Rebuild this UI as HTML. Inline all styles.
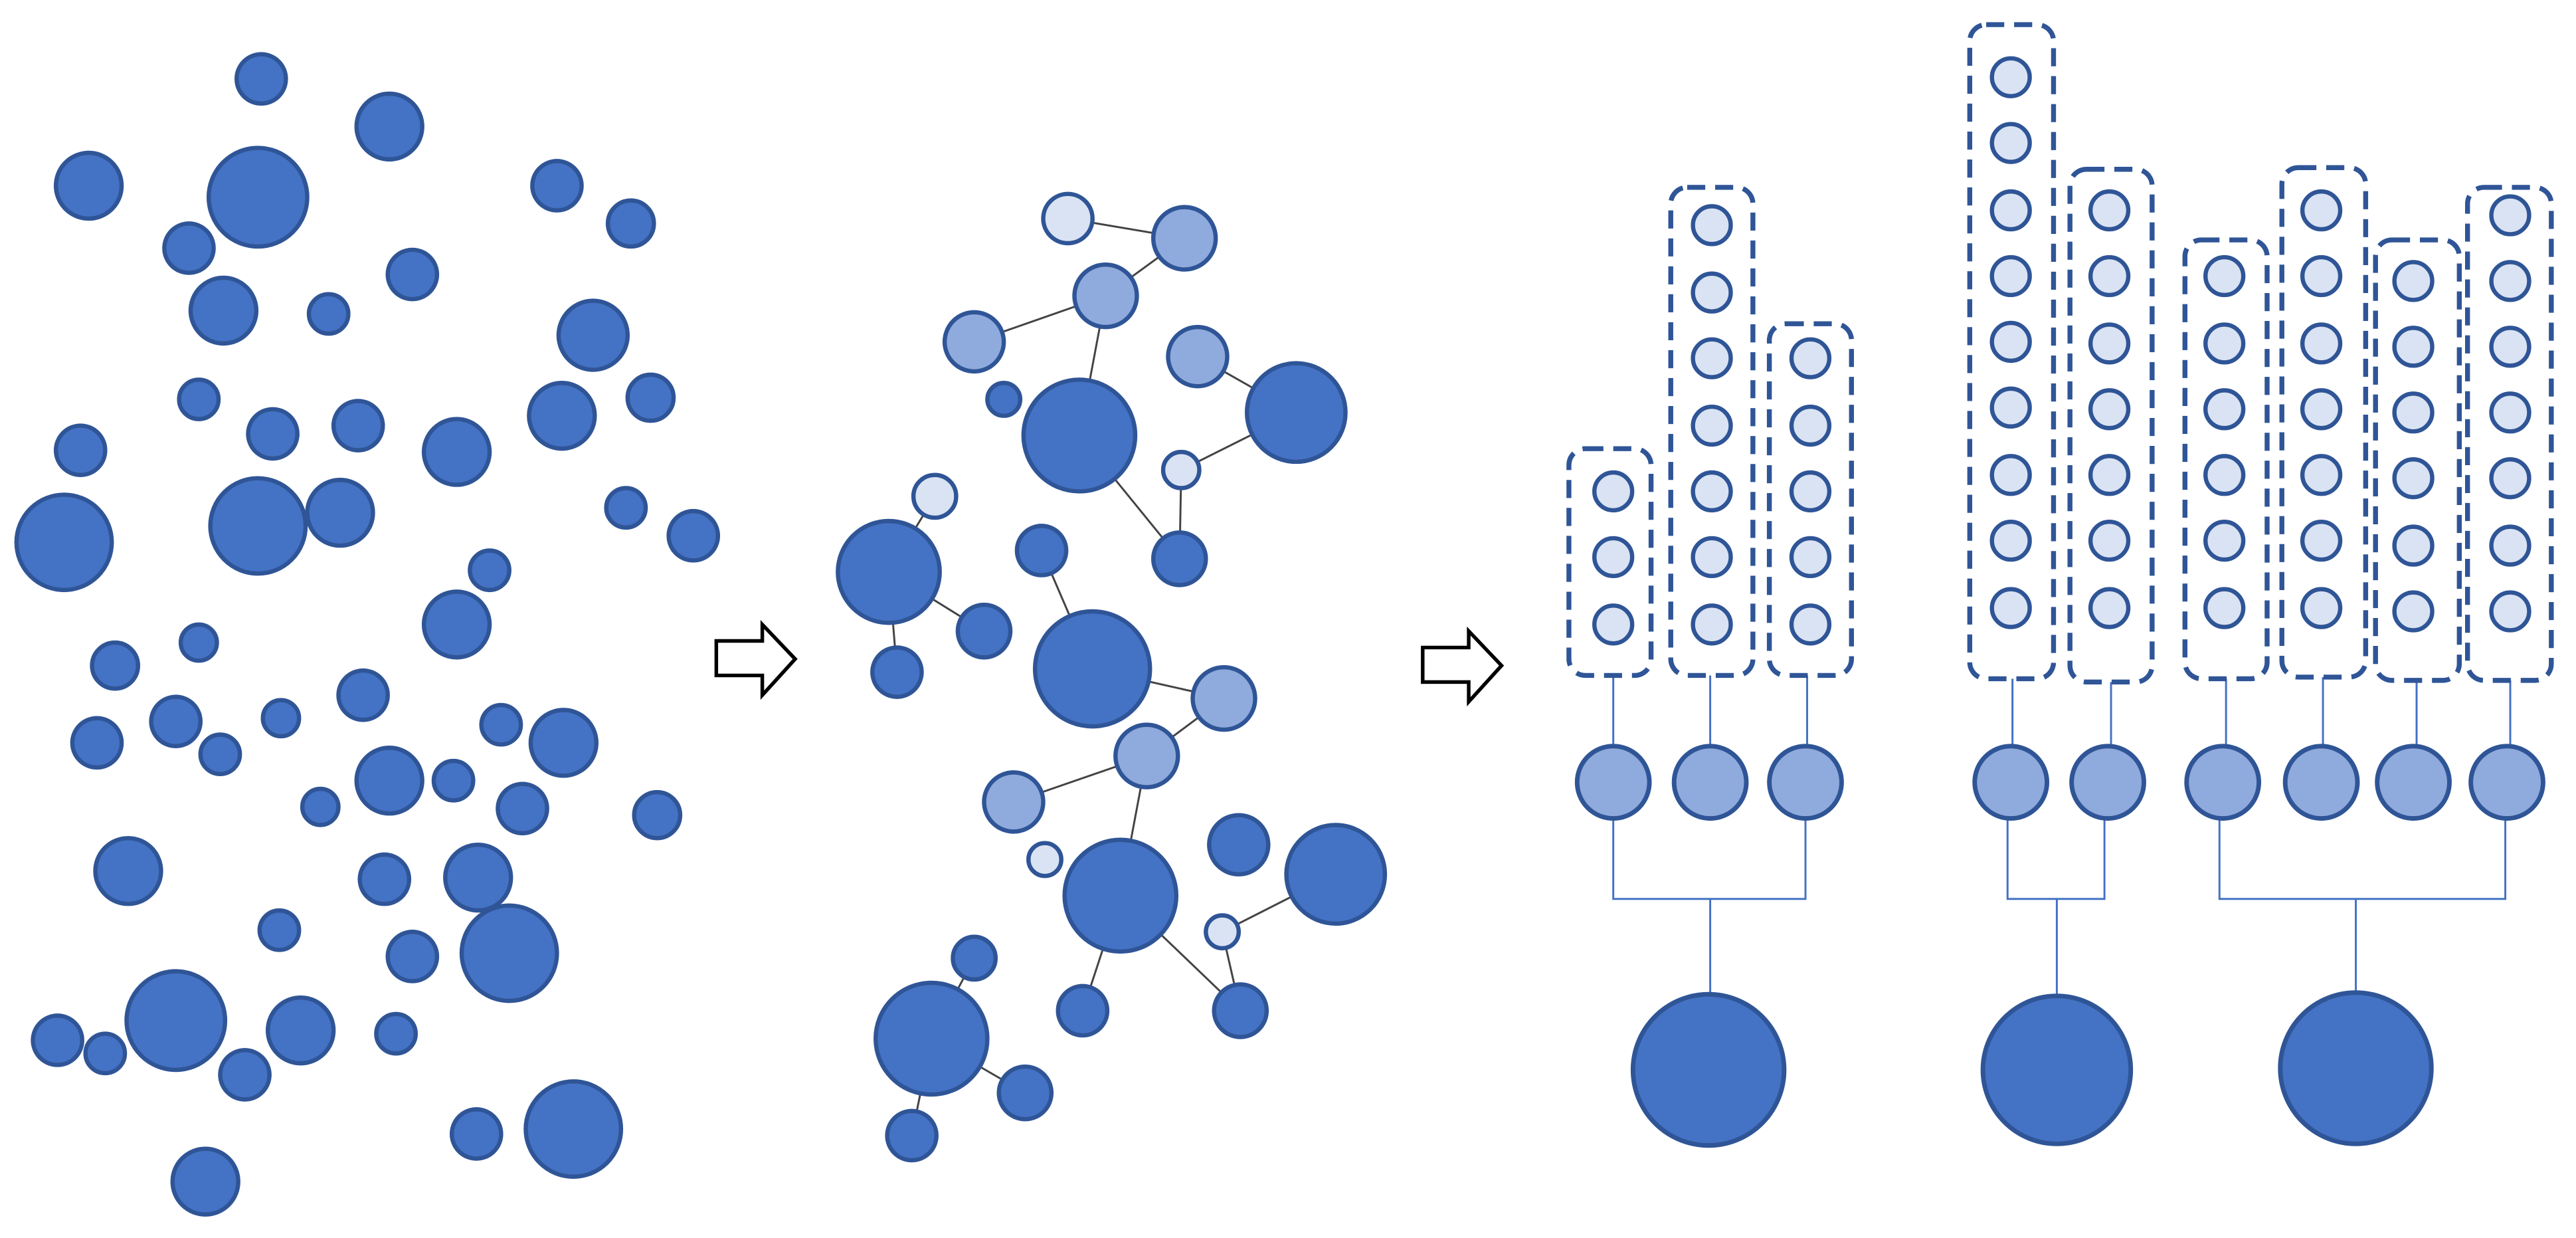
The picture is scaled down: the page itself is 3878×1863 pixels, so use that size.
<!DOCTYPE html>
<html><head><meta charset="utf-8"><style>html,body{margin:0;padding:0;background:#fff}svg{display:block}</style></head>
<body>
<svg width="3878" height="1863" viewBox="0 0 1568 753.3" xmlns="http://www.w3.org/2000/svg">
<rect width="1568" height="753.3" fill="#fff"/>
<g fill="#4472C4" stroke="#2F5597" stroke-width="2.6">
<circle cx="159" cy="48" r="15"/><circle cx="237" cy="77" r="20"/><circle cx="54" cy="113" r="20"/><circle cx="157" cy="120" r="30"/><circle cx="339" cy="113" r="15"/><circle cx="384" cy="136" r="14"/><circle cx="115" cy="151" r="15"/><circle cx="136" cy="189" r="20"/><circle cx="200" cy="191" r="12"/><circle cx="251" cy="167" r="15"/><circle cx="361" cy="204" r="21"/><circle cx="121" cy="243" r="12"/><circle cx="166" cy="264" r="15"/><circle cx="218" cy="259" r="15"/><circle cx="278" cy="275" r="20"/><circle cx="342" cy="253" r="20"/><circle cx="396" cy="242" r="14"/><circle cx="49" cy="274" r="15"/><circle cx="39" cy="330" r="29"/><circle cx="157" cy="320" r="29"/><circle cx="207" cy="312" r="20"/><circle cx="381" cy="309" r="12"/><circle cx="422" cy="326" r="15"/><circle cx="298" cy="347" r="12"/><circle cx="278" cy="380" r="20"/><circle cx="121" cy="391" r="11"/><circle cx="70" cy="405" r="14"/><circle cx="221" cy="423" r="15"/><circle cx="107" cy="439" r="15"/><circle cx="59" cy="452" r="15"/><circle cx="171" cy="437" r="11"/><circle cx="134" cy="459" r="12"/><circle cx="305" cy="441" r="12"/><circle cx="343" cy="452" r="20"/><circle cx="237" cy="475" r="20"/><circle cx="276" cy="475" r="12"/><circle cx="195" cy="491" r="11"/><circle cx="318" cy="492" r="15"/><circle cx="400" cy="496" r="14"/><circle cx="78" cy="530" r="20"/><circle cx="234" cy="535" r="15"/><circle cx="291" cy="534" r="20"/><circle cx="170" cy="566" r="12"/><circle cx="251" cy="582" r="15"/><circle cx="310" cy="580" r="29"/><circle cx="107" cy="621" r="30"/><circle cx="183" cy="627" r="20"/><circle cx="35" cy="633" r="15"/><circle cx="64" cy="641" r="12"/><circle cx="149" cy="654" r="15"/><circle cx="241" cy="629" r="12"/><circle cx="290" cy="690" r="15"/><circle cx="349" cy="687" r="29"/><circle cx="125" cy="719" r="20"/>
</g>
<g fill="#fff" stroke="#000" stroke-width="2.2" stroke-linejoin="miter">
<polygon points="436,390 464,390 464,380 484,401 464,423 464,411 436,411"/>
<polygon points="866,394 894,394 894,384 914,405 894,427 894,415 866,415"/>
</g>
<g stroke="#444" stroke-width="1.2">
<line x1="650" y1="133" x2="721" y2="145"/><line x1="673" y1="180" x2="721" y2="145"/><line x1="593" y1="208" x2="673" y2="180"/><line x1="673" y1="180" x2="657" y2="265"/><line x1="729" y1="217" x2="789" y2="251"/><line x1="789" y1="251" x2="719" y2="286"/><line x1="657" y1="265" x2="718" y2="340"/><line x1="719" y1="286" x2="718" y2="340"/><line x1="569" y1="302" x2="541" y2="348"/><line x1="541" y1="348" x2="599" y2="384"/><line x1="541" y1="348" x2="546" y2="409"/><line x1="634" y1="335" x2="665" y2="407"/><line x1="665" y1="407" x2="745" y2="425"/><line x1="745" y1="425" x2="698" y2="460"/><line x1="617" y1="488" x2="698" y2="460"/><line x1="698" y1="460" x2="682" y2="545"/><line x1="813" y1="532" x2="744" y2="567"/><line x1="682" y1="545" x2="755" y2="615"/><line x1="744" y1="567" x2="755" y2="615"/><line x1="593" y1="583" x2="567" y2="632"/><line x1="682" y1="545" x2="659" y2="615"/><line x1="567" y1="632" x2="624" y2="665"/><line x1="567" y1="632" x2="555" y2="691"/>
</g>
<g stroke="#2F5597" stroke-width="2.6">
<g fill="#DAE3F3"><circle cx="650" cy="133" r="15"/><circle cx="719" cy="286" r="11"/><circle cx="569" cy="302" r="13"/><circle cx="636" cy="523" r="10"/><circle cx="744" cy="567" r="10"/></g>
<g fill="#8FAADC"><circle cx="721" cy="145" r="19"/><circle cx="673" cy="180" r="19"/><circle cx="593" cy="208" r="18"/><circle cx="729" cy="217" r="18"/><circle cx="745" cy="425" r="19"/><circle cx="698" cy="460" r="19"/><circle cx="617" cy="488" r="18"/></g>
<g fill="#4472C4"><circle cx="611" cy="243" r="10"/><circle cx="657" cy="265" r="34"/><circle cx="789" cy="251" r="30"/><circle cx="718" cy="340" r="16"/><circle cx="541" cy="348" r="31"/><circle cx="634" cy="335" r="15"/><circle cx="599" cy="384" r="16"/><circle cx="665" cy="407" r="35"/><circle cx="546" cy="409" r="15"/><circle cx="754" cy="514" r="18"/><circle cx="813" cy="532" r="30"/><circle cx="682" cy="545" r="34"/><circle cx="593" cy="583" r="13"/><circle cx="567" cy="632" r="34"/><circle cx="659" cy="615" r="15"/><circle cx="755" cy="615" r="16"/><circle cx="624" cy="665" r="16"/><circle cx="555" cy="691" r="15"/></g>
</g>
<!-- right panel connectors -->
<g stroke="#4472C4" stroke-width="1.2" fill="none">
<line x1="982" y1="411" x2="982" y2="454"/><line x1="1041" y1="411" x2="1041" y2="454"/><line x1="1100" y1="411" x2="1100" y2="454"/>
<line x1="1225" y1="413" x2="1225" y2="454"/><line x1="1285" y1="415" x2="1285" y2="454"/>
<line x1="1355" y1="413" x2="1355" y2="454"/><line x1="1414" y1="412" x2="1414" y2="454"/><line x1="1471" y1="414" x2="1471" y2="454"/><line x1="1528" y1="414" x2="1528" y2="454"/>
<polyline points="982,498 982,547 1099,547 1099,498"/><line x1="1041" y1="547" x2="1041" y2="605"/>
<polyline points="1222,498 1222,547 1281,547 1281,498"/><line x1="1252" y1="547" x2="1252" y2="606"/>
<polyline points="1351,498 1351,547 1525,547 1525,498"/><line x1="1434" y1="547" x2="1434" y2="604"/>
</g>
<g fill="none" stroke="#2F5597" stroke-width="3" stroke-dasharray="11 6">
<rect x="955" y="273" width="50" height="138" rx="10"/>
<rect x="1017" y="114" width="50" height="297" rx="10"/>
<rect x="1077" y="197" width="50" height="214" rx="10"/>
<rect x="1199" y="15" width="51" height="398" rx="10"/>
<rect x="1260" y="103" width="50" height="312" rx="10"/>
<rect x="1330" y="146" width="50" height="267" rx="10"/>
<rect x="1389" y="102" width="51" height="310" rx="10"/>
<rect x="1446" y="146" width="51" height="268" rx="10"/>
<rect x="1502" y="114" width="51" height="300" rx="10"/>
</g>
<g fill="#DAE3F3" stroke="#2F5597" stroke-width="2.6">
<circle cx="982" cy="299" r="11.5"/><circle cx="982" cy="339" r="11.5"/><circle cx="982" cy="380" r="11.5"/>
<circle cx="1042" cy="137" r="11.5"/><circle cx="1042" cy="178" r="11.5"/><circle cx="1042" cy="218" r="11.5"/><circle cx="1042" cy="259" r="11.5"/><circle cx="1042" cy="299" r="11.5"/><circle cx="1042" cy="339" r="11.5"/><circle cx="1042" cy="380" r="11.5"/>
<circle cx="1102" cy="218" r="11.5"/><circle cx="1102" cy="259" r="11.5"/><circle cx="1102" cy="299" r="11.5"/><circle cx="1102" cy="339" r="11.5"/><circle cx="1102" cy="380" r="11.5"/>
<circle cx="1224" cy="47" r="11.5"/><circle cx="1224" cy="87" r="11.5"/><circle cx="1224" cy="128" r="11.5"/><circle cx="1224" cy="168" r="11.5"/><circle cx="1224" cy="208" r="11.5"/><circle cx="1224" cy="248" r="11.5"/><circle cx="1224" cy="289" r="11.5"/><circle cx="1224" cy="329" r="11.5"/><circle cx="1224" cy="370" r="11.5"/>
<circle cx="1284" cy="128" r="11.5"/><circle cx="1284" cy="168" r="11.5"/><circle cx="1284" cy="209" r="11.5"/><circle cx="1284" cy="249" r="11.5"/><circle cx="1284" cy="289" r="11.5"/><circle cx="1284" cy="329" r="11.5"/><circle cx="1284" cy="370" r="11.5"/>
<circle cx="1354" cy="168" r="11.5"/><circle cx="1354" cy="209" r="11.5"/><circle cx="1354" cy="249" r="11.5"/><circle cx="1354" cy="289" r="11.5"/><circle cx="1354" cy="329" r="11.5"/><circle cx="1354" cy="370" r="11.5"/>
<circle cx="1413" cy="128" r="11.5"/><circle cx="1413" cy="168" r="11.5"/><circle cx="1413" cy="209" r="11.5"/><circle cx="1413" cy="249" r="11.5"/><circle cx="1413" cy="289" r="11.5"/><circle cx="1413" cy="329" r="11.5"/><circle cx="1413" cy="370" r="11.5"/>
<circle cx="1469" cy="171" r="11.5"/><circle cx="1469" cy="211" r="11.5"/><circle cx="1469" cy="251" r="11.5"/><circle cx="1469" cy="291" r="11.5"/><circle cx="1469" cy="332" r="11.5"/><circle cx="1469" cy="372" r="11.5"/>
<circle cx="1528" cy="131" r="11.5"/><circle cx="1528" cy="171" r="11.5"/><circle cx="1528" cy="211" r="11.5"/><circle cx="1528" cy="251" r="11.5"/><circle cx="1528" cy="291" r="11.5"/><circle cx="1528" cy="332" r="11.5"/><circle cx="1528" cy="372" r="11.5"/>
</g>
<g fill="#8FAADC" stroke="#2F5597" stroke-width="2.8">
<circle cx="982" cy="476" r="22"/><circle cx="1041" cy="476" r="22"/><circle cx="1099" cy="476" r="22"/><circle cx="1224" cy="476" r="22"/><circle cx="1283" cy="476" r="22"/><circle cx="1353" cy="476" r="22"/><circle cx="1413" cy="476" r="22"/><circle cx="1469" cy="476" r="22"/><circle cx="1526" cy="476" r="22"/>
</g>
<g fill="#4472C4" stroke="#2F5597" stroke-width="2.8">
<circle cx="1040" cy="651" r="46"/><circle cx="1252" cy="651" r="45"/><circle cx="1434" cy="650" r="46"/>
</g>
</svg>
</body></html>
